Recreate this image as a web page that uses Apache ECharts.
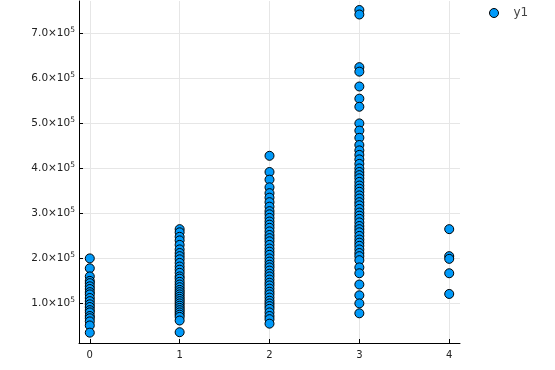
<!DOCTYPE html>
<html>
<head>
<meta charset="utf-8">
<script src="https://cdn.jsdelivr.net/npm/echarts@6/dist/echarts.min.js"></script>
<style>html,body{margin:0;padding:0;background:#fff;}#c{width:555px;height:370px;}</style>
</head>
<body>
<div id="c"></div>
<script>
const seriesName = 'y1';
const xTicks = [0, 1, 2, 3, 4];
const yTicks = [100000, 200000, 300000, 400000, 500000, 600000, 700000];
const yTickLabels = ['1.0', '2.0', '3.0', '4.0', '5.0', '6.0', '7.0'];
const col0 = [200000, 178000, 160000, 150000, 145000, 138000, 132000, 125000, 120000, 112000, 105000, 98000, 92000, 85000, 80000, 72000, 67000, 60000, 51000, 35000];
const col1 = [265000, 258000, 248000, 240000, 230000, 220000, 212000, 205000, 198000, 190000, 182000, 175000, 168000, 160000, 155000, 148000, 142000, 136000, 130000, 125000, 120000, 115000, 110000, 105000, 100000, 95000, 90000, 85000, 80000, 75000, 70000, 62000, 36000];
const col2 = [428000, 392000, 375000, 358000, 345000, 335000, 325000, 315000, 305000, 298000, 290000, 282000, 275000, 268000, 260000, 252000, 245000, 238000, 230000, 222000, 215000, 208000, 200000, 193000, 186000, 180000, 173000, 166000, 160000, 153000, 146000, 140000, 133000, 126000, 120000, 113000, 106000, 100000, 94000, 88000, 80000, 72000, 65000, 55000];
const col3 = [752000, 742000, 625000, 615000, 582000, 555000, 537000, 500000, 484000, 468000, 452000, 440000, 430000, 420000, 410000, 400000, 392000, 385000, 378000, 370000, 362000, 355000, 348000, 340000, 333000, 325000, 318000, 310000, 302000, 295000, 288000, 280000, 272000, 265000, 258000, 250000, 242000, 235000, 228000, 220000, 212000, 205000, 196000, 180000, 167000, 142000, 118000, 100000, 78000];
const col4 = [265000, 205000, 199000, 167000, 121000];

const cols = [col0, col1, col2, col3, col4];
const data = [];
cols.forEach((c, i) => c.forEach(v => data.push([xTicks[i], v])));

const chart = echarts.init(document.getElementById('c'), null, {renderer: 'canvas'});
const fontFam = 'DejaVu Sans, sans-serif';
chart.setOption({
  animation: false,
  backgroundColor: '#fff',
  grid: {left: 79, right: 95, top: 1, bottom: 27, containLabel: false},
  legend: {
    data: [seriesName], left: 484, top: 2, icon: 'circle', itemWidth: 9, itemHeight: 9, itemGap: 0,
    textStyle: {fontFamily: fontFam, fontSize: 12, color: '#444', padding: [0, 0, 0, 10]},
    itemStyle: {color: '#009AFA', borderColor: '#000', borderWidth: 1}
  },
  xAxis: {
    type: 'value', min: -0.12, max: 4.12,
    axisLine: {show: true, onZero: false, lineStyle: {color: '#000', width: 1}},
    axisTick: {show: true, inside: true, length: 4, customValues: xTicks, lineStyle: {color: '#000'}},
    axisLabel: {customValues: xTicks, fontFamily: fontFam, fontSize: 10, color: '#222', margin: 7},
    splitLine: {show: true, lineStyle: {color: '#e6e6e6', width: 1}}
  },
  yAxis: {
    type: 'value', min: 12000, max: 772000,
    axisLine: {show: true, onZero: false, lineStyle: {color: '#000', width: 1}},
    axisTick: {show: true, inside: true, length: 4, customValues: yTicks, lineStyle: {color: '#000'}},
    axisLabel: {
      customValues: yTicks, margin: 4, fontFamily: fontFam, color: '#222',
      formatter: v => { const i = yTicks.indexOf(v); return '{b|' + yTickLabels[i] + '×10}{s|5}'; },
      rich: {
        b: {fontFamily: fontFam, fontSize: 10.5, color: '#222', lineHeight: 14},
        s: {fontFamily: fontFam, fontSize: 7.5, color: '#222', verticalAlign: 'top', lineHeight: 8, padding: [0, 0, 6, 0]}
      }
    },
    splitLine: {show: true, lineStyle: {color: '#e6e6e6', width: 1}}
  },
  series: [{
    name: seriesName, type: 'scatter', data: data, symbol: 'circle', symbolSize: 9,
    itemStyle: {color: '#009AFA', borderColor: '#000', borderWidth: 1, opacity: 1}
  }]
});
</script>
</body>
</html>
